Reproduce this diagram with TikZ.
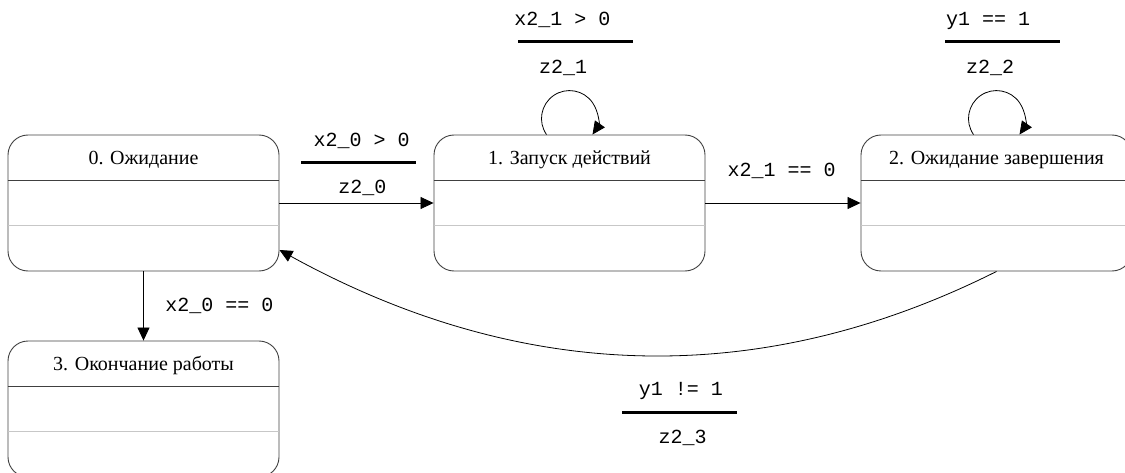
\documentclass[tikz,border=0pt]{standalone}
\usepackage{fontspec}
\setmainfont{Liberation Serif}
\newfontfamily\lblmono{Liberation Mono}
\usetikzlibrary{arrows.meta}
\tikzset{
  state/.style={draw=black!75, line width=0.9pt, rounded corners=20pt,
    minimum width=271pt, minimum height=136pt, inner sep=0pt},
  title/.style={font=\fontsize{20}{24}\selectfont, anchor=base, inner sep=0pt},
  lbl/.style={font=\lblmono\fontsize{20}{24}\selectfont, anchor=base, inner sep=0pt},
  edge/.style={draw=black, line width=0.8pt, -{Triangle[length=13pt,width=12pt]}},
  bar/.style={draw=black, line width=3pt},
  hdrline/.style={draw=black!75, line width=0.9pt},
  sepline/.style={draw=black!22, line width=1pt},
}
\begin{document}
\begin{tikzpicture}[x=1pt,y=1pt]
\useasboundingbox (0,0) rectangle (1125,472);
\clip (0,0) rectangle (1125,472);
% states
\node[state] (s0) at (143.5,269) {};
\node[state] (s1) at (569.5,269) {};
\node[state] (s2) at (996.5,269) {};
\node[state] (s3) at (143.5,63) {};
\foreach \s/\t in {s0/{0. Ожидание}, s1/{1. Запуск действий}, s2/{2. Ожидание завершения}, s3/{3. Окончание работы}}{
  \node[title] (\s t) at ([yshift=-30pt]\s.north) {\t};
  \draw[hdrline] ([yshift=-46pt]\s.north west) -- ([yshift=-46pt]\s.north east);
  \draw[sepline] ([yshift=-91pt]\s.north west) -- ([yshift=-91pt]\s.north east);
}
% transitions
\draw[edge] (s0.east) -- (s1.west);
\draw[edge] (s1.east) -- (s2.west);
\draw[edge] (s0.south) -- (s3.north);
\draw[edge] ([xshift=-23pt]s1.north) arc[start angle=214.8, end angle=-34.8, radius=28];
\draw[edge] ([xshift=-23pt]s2.north) arc[start angle=214.8, end angle=-34.8, radius=28];
\draw[edge] (s2.south) .. controls (760,82) and (521,89) .. ([yshift=-47pt]s0.east);
% labels 0->1
\node[lbl] (c01) at (361.7,325) {x2\_0 > 0};
\coordinate (b01) at (358.5,309);
\draw[bar] ([xshift=-57.5pt]b01) -- ([xshift=57.5pt]b01);
\node[lbl] (a01) at (362.5,278) {z2\_0};
% loop 1
\node[lbl] (c11) at (562.5,446) {x2\_1 > 0};
\coordinate (b11) at (575.5,430);
\draw[bar] ([xshift=-57.5pt]b11) -- ([xshift=57.5pt]b11);
\node[lbl] (a11) at (563,398) {z2\_1};
% loop 2
\node[lbl] (c22) at (988,446) {y1 == 1};
\coordinate (b22) at (1002.5,430);
\draw[bar] ([xshift=-57.5pt]b22) -- ([xshift=57.5pt]b22);
\node[lbl] (a22) at (990,398) {z2\_2};
% 1->2
\node[lbl] (c12) at (781.7,295) {x2\_1 == 0};
% 0->3
\node[lbl] (c03) at (219.5,161) {x2\_0 == 0};
% 2->0
\node[lbl] (c20) at (681,77) {y1 != 1};
\coordinate (b20) at (679.5,60);
\draw[bar] ([xshift=-57.5pt]b20) -- ([xshift=57.5pt]b20);
\node[lbl] (a20) at (682.5,29) {z2\_3};
\end{tikzpicture}
\end{document}
